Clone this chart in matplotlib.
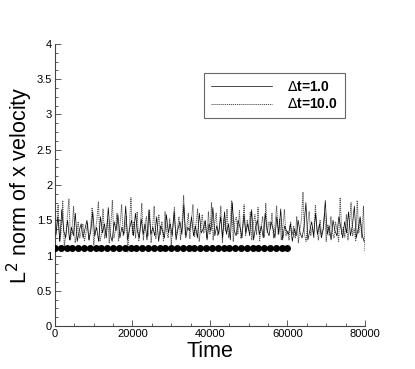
import numpy as np
import matplotlib
matplotlib.use("Agg")
import matplotlib.pyplot as plt
from matplotlib.ticker import MultipleLocator

plt.rcParams['font.family'] = ['Liberation Sans', 'DejaVu Sans']

# Delta t = 10.0 series (dotted), t = 0..80000 step 400
t_dt10 = list(range(0, 80001, 400))
v_dt10 = [1.15, 1.40, 1.72, 1.20, 1.35, 1.78, 1.12, 1.30, 1.55, 1.80,
          1.22, 1.38, 1.70, 1.18, 1.30, 1.48, 1.25, 1.35, 1.45, 1.20,
          1.32, 1.46, 1.22, 1.40, 1.68, 1.15, 1.34, 1.50, 1.76, 1.20,
          1.30, 1.66, 1.24, 1.38, 1.52, 1.18, 1.42, 1.78, 1.25, 1.36,
          1.60, 1.20, 1.45, 1.72, 1.28, 1.34, 1.56, 1.05, 1.40, 1.82,
          1.30, 1.48, 1.25, 1.62, 1.20, 1.38, 1.74, 1.22, 1.44, 1.55,
          1.28, 1.65, 1.18, 1.40, 1.70, 1.24, 1.36, 1.58, 1.30, 1.48,
          1.20, 1.62, 1.35, 1.25, 1.52, 1.15, 1.42, 1.68, 1.28, 1.38,
          1.55, 1.22, 1.46, 1.85, 1.30, 1.40, 1.60, 1.24, 1.50, 1.72,
          1.26, 1.44, 1.66, 1.20, 1.38, 1.58, 1.32, 1.48, 1.25, 1.62,
          1.30, 1.75, 1.22, 1.45, 1.60, 1.28, 1.40, 1.70, 1.18, 1.52,
          1.35, 1.66, 1.25, 1.42, 1.78, 1.20, 1.48, 1.55, 1.30, 1.64,
          1.24, 1.40, 1.72, 1.28, 1.50, 1.35, 1.62, 1.22, 1.45, 1.58,
          1.30, 1.68, 1.20, 1.42, 1.55, 1.26, 1.74, 1.32, 1.48, 1.38,
          1.60, 1.25, 1.44, 1.70, 1.30, 1.52, 1.22, 1.40, 1.65, 1.28,
          1.35, 1.22, 1.48, 1.30, 1.42, 1.25, 1.55, 1.18, 1.38, 1.50,
          1.90, 1.30, 1.20, 1.45, 1.62, 1.28, 1.40, 1.25, 1.72, 1.35,
          1.22, 1.50, 1.30, 1.38, 1.60, 1.20, 1.44, 1.28, 1.55, 1.32,
          1.25, 1.48, 1.36, 1.20, 1.82, 1.30, 1.40, 1.26, 1.58, 1.22,
          1.45, 1.75, 1.28, 1.38, 1.20, 1.78, 1.32, 1.50, 1.25, 1.70,
          1.05]

# Delta t = 1.0 series (solid), t = 250..79750 step 500
t_dt1 = list(range(250, 80000, 500))
v_dt1 = [1.30, 1.55, 1.20, 1.65, 1.35, 1.25, 1.50, 1.22,
         1.40, 1.28, 1.60, 1.20, 1.35, 1.45, 1.25, 1.38,
         1.50, 1.22, 1.35, 1.62, 1.28, 1.40, 1.20, 1.55,
         1.32, 1.45, 1.25, 1.68, 1.30, 1.20, 1.48, 1.35,
         1.58, 1.25, 1.40, 1.30, 1.70, 1.22, 1.38, 1.50,
         1.28, 1.60, 1.35, 1.25, 1.52, 1.30, 1.45, 1.22,
         1.65, 1.30, 1.40, 1.28, 1.55, 1.20, 1.42, 1.35,
         1.25, 1.58, 1.32, 1.45, 1.28, 1.62, 1.22, 1.38,
         1.48, 1.30, 1.72, 1.25, 1.40, 1.35, 1.55, 1.28,
         1.42, 1.25, 1.60, 1.32, 1.38, 1.50, 1.22, 1.45,
         1.35, 1.68, 1.28, 1.42, 1.30, 1.55, 1.25, 1.62,
         1.30, 1.45, 1.22, 1.75, 1.35, 1.28, 1.50, 1.40,
         1.25, 1.58, 1.32, 1.45, 1.28, 1.65, 1.22, 1.40,
         1.50, 1.30, 1.42, 1.25, 1.60, 1.35, 1.28, 1.48,
         1.38, 1.25, 1.55, 1.30, 1.66, 1.22, 1.42, 1.35,
         1.30, 1.45, 1.20, 1.38, 1.28, 1.50, 1.32, 1.25,
         1.40, 1.75, 1.22, 1.35, 1.48, 1.28, 1.60, 1.30,
         1.45, 1.25, 1.38, 1.78, 1.30, 1.42, 1.22, 1.50,
         1.35, 1.28, 1.55, 1.40, 1.25, 1.48, 1.32, 1.62,
         1.28, 1.42, 1.70, 1.25, 1.38, 1.55, 1.30, 1.20]

# reference level with markers, t = 0..60000 step 1500
t_ref = list(range(0, 60001, 1500))
v_ref = [1.11] * len(t_ref)

x_ticks = [0, 20000, 40000, 60000, 80000]
y_ticks = [0, 0.5, 1, 1.5, 2, 2.5, 3, 3.5, 4]
y_ticklabels = ['0', '0.5', '1', '1.5', '2', '2.5', '3', '3.5', '4']

fig = plt.figure(figsize=(4.15, 3.69), dpi=100)
ax = fig.add_axes([0.1325, 0.1165, 0.747, 0.7643])

ax.plot(t_dt10, v_dt10, color='#555555', lw=0.7, ls=(0, (1.2, 0.8)), label=r'$\Delta$t=10.0', zorder=2)
ax.plot(t_dt1, v_dt1, color='black', lw=0.5, ls='-', label=r'$\Delta$t=1.0', zorder=3)
ax.plot(t_ref, v_ref, color='black', lw=2.0, marker='o', ms=4.0, zorder=4)

ax.set_xlim(0, 80000)
ax.set_ylim(0, 4)
ax.set_xticks(x_ticks)
ax.set_yticks(y_ticks)
ax.set_yticklabels(y_ticklabels)
ax.xaxis.set_minor_locator(MultipleLocator(5000))
ax.yaxis.set_minor_locator(MultipleLocator(0.125))
ax.tick_params(which='both', direction='in', labelsize=8, width=0.6, color='#444444', pad=2)
ax.tick_params(which='major', length=4)
ax.tick_params(which='minor', length=2)
ax.spines['top'].set_visible(False)
ax.spines['right'].set_visible(False)
for s in ('left', 'bottom'):
    ax.spines[s].set_linewidth(0.8)
    ax.spines[s].set_color('#444444')

ax.set_xlabel('Time', fontsize=15.5)
ax.set_ylabel(r'L$^2$ norm of x velocity', fontsize=15.5)
ax.xaxis.set_label_coords(0.5, -0.052)
ax.yaxis.set_label_coords(-0.066, 0.5)

h, l = ax.get_legend_handles_labels()
leg = ax.legend([h[1], h[0]], [l[1], l[0]], loc='upper left',
                bbox_to_anchor=(0.4806, 0.897), borderaxespad=0,
                fancybox=False, framealpha=1,
                edgecolor='#666666', prop={'weight': 'bold', 'size': 10},
                handlelength=4.4, handletextpad=1.1, borderpad=0.5,
                labelspacing=0.25)
leg.get_frame().set_linewidth(0.8)

fig.savefig('out.png', dpi=100)
